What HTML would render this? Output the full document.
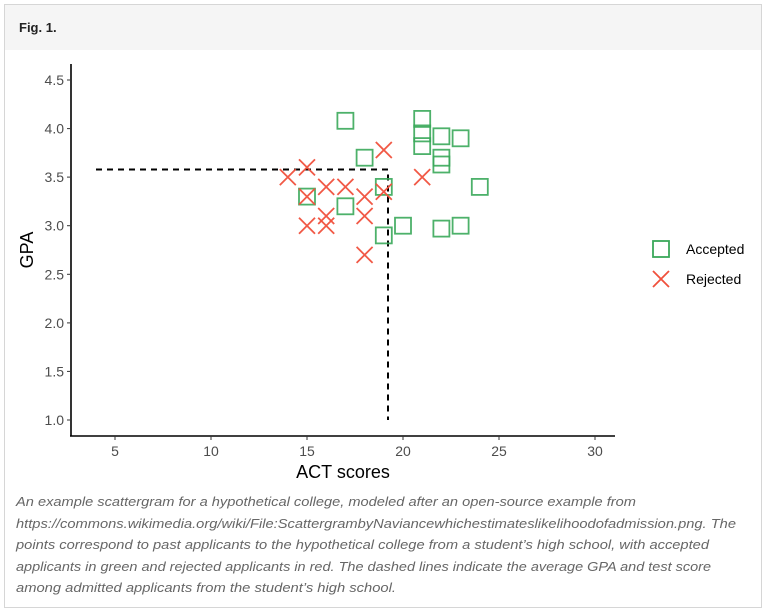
<!DOCTYPE html>
<html><head><meta charset="utf-8"><style>
html,body{margin:0;padding:0;background:#fff;}
svg{display:block;}
</style></head><body>
<svg width="766" height="612" viewBox="0 0 766 612" xmlns="http://www.w3.org/2000/svg" font-family="Liberation Sans, Arial, sans-serif">
<rect x="4.5" y="4.5" width="757" height="603" fill="#fff" stroke="#d6d6d6"/>
<rect x="5" y="5" width="756" height="45" fill="#f5f5f5"/>
<text x="19" y="32" font-size="13" font-weight="bold" fill="#222">Fig. 1.</text>
<line x1="71" y1="64" x2="71" y2="436" stroke="#000" stroke-width="1.6"/>
<line x1="70" y1="436" x2="615" y2="436" stroke="#000" stroke-width="1.6"/>
<g stroke="#333" stroke-width="1">
<line x1="67" y1="80" x2="71" y2="80"/><line x1="67" y1="128.6" x2="71" y2="128.6"/><line x1="67" y1="177.1" x2="71" y2="177.1"/><line x1="67" y1="225.7" x2="71" y2="225.7"/><line x1="67" y1="274.3" x2="71" y2="274.3"/><line x1="67" y1="322.9" x2="71" y2="322.9"/><line x1="67" y1="371.4" x2="71" y2="371.4"/><line x1="67" y1="420" x2="71" y2="420"/>
<line x1="115" y1="436" x2="115" y2="440"/><line x1="211" y1="436" x2="211" y2="440"/><line x1="307" y1="436" x2="307" y2="440"/><line x1="403" y1="436" x2="403" y2="440"/><line x1="499" y1="436" x2="499" y2="440"/><line x1="595" y1="436" x2="595" y2="440"/>
</g>
<g font-size="14" fill="#4d4d4d" text-anchor="end">
<text x="64" y="85">4.5</text><text x="64" y="133.6">4.0</text><text x="64" y="182.1">3.5</text><text x="64" y="230.7">3.0</text><text x="64" y="279.3">2.5</text><text x="64" y="327.9">2.0</text><text x="64" y="376.4">1.5</text><text x="64" y="425">1.0</text>
</g>
<g font-size="14" fill="#4d4d4d" text-anchor="middle">
<text x="115" y="456">5</text><text x="211" y="456">10</text><text x="307" y="456">15</text><text x="403" y="456">20</text><text x="499" y="456">25</text><text x="595" y="456">30</text>
</g>
<text x="343" y="478" font-size="18" text-anchor="middle" fill="#000">ACT scores</text>
<text transform="translate(33,250) rotate(-90)" font-size="18" text-anchor="middle" fill="#000">GPA</text>
<path d="M96 169.5 H388 V420" fill="none" stroke="#000" stroke-width="2" stroke-dasharray="6,5"/>
<g fill="none" stroke="#3aa85a" stroke-width="1.8" stroke-opacity="0.9">
<rect x="337.4" y="112.8" width="16" height="16"/>
<rect x="356.6" y="149.7" width="16" height="16"/>
<rect x="299" y="188.6" width="16" height="16"/>
<rect x="337.4" y="198.3" width="16" height="16"/>
<rect x="375.8" y="178.9" width="16" height="16"/>
<rect x="375.8" y="227.4" width="16" height="16"/>
<rect x="395" y="217.7" width="16" height="16"/>
<rect x="414.2" y="110.9" width="16" height="16"/>
<rect x="414.2" y="125.4" width="16" height="16"/>
<rect x="414.2" y="138.1" width="16" height="16"/>
<rect x="433.4" y="128.3" width="16" height="16"/>
<rect x="433.4" y="149.7" width="16" height="16"/>
<rect x="433.4" y="156.5" width="16" height="16"/>
<rect x="452.6" y="130.3" width="16" height="16"/>
<rect x="471.8" y="178.9" width="16" height="16"/>
<rect x="433.4" y="220.6" width="16" height="16"/>
<rect x="452.6" y="217.7" width="16" height="16"/>
</g>
<g stroke="#f0503c" stroke-width="1.8" stroke-opacity="0.95" fill="none">
<path d="M279.8 169.1l16 16m0 -16l-16 16"/>
<path d="M299 159.4l16 16m0 -16l-16 16"/>
<path d="M299 188.6l16 16m0 -16l-16 16"/>
<path d="M299 217.7l16 16m0 -16l-16 16"/>
<path d="M318.2 178.9l16 16m0 -16l-16 16"/>
<path d="M318.2 208l16 16m0 -16l-16 16"/>
<path d="M318.2 217.7l16 16m0 -16l-16 16"/>
<path d="M337.4 178.9l16 16m0 -16l-16 16"/>
<path d="M356.6 188.6l16 16m0 -16l-16 16"/>
<path d="M356.6 208l16 16m0 -16l-16 16"/>
<path d="M356.6 246.9l16 16m0 -16l-16 16"/>
<path d="M375.8 142l16 16m0 -16l-16 16"/>
<path d="M375.8 183.7l16 16m0 -16l-16 16"/>
<path d="M414.2 169.1l16 16m0 -16l-16 16"/>
</g>
<rect x="653" y="241" width="16" height="16" fill="none" stroke="#3aa85a" stroke-width="1.8"/>
<path d="M653 271l16 16m0 -16l-16 16" stroke="#f0503c" stroke-width="1.8"/>
<text x="686" y="254" font-size="14" fill="#000">Accepted</text>
<text x="686" y="284" font-size="14" fill="#000">Rejected</text>
<g font-size="13" font-style="italic" fill="#666">
<text x="16" y="506" textLength="620" lengthAdjust="spacingAndGlyphs">An example scattergram for a hypothetical college, modeled after an open-source example from</text>
<text x="16" y="528" textLength="720" lengthAdjust="spacingAndGlyphs">https://commons.wikimedia.org/wiki/File:ScattergrambyNaviancewhichestimateslikelihoodofadmission.png. The</text>
<text x="16" y="549" textLength="693" lengthAdjust="spacingAndGlyphs">points correspond to past applicants to the hypothetical college from a student’s high school, with accepted</text>
<text x="16" y="571" textLength="695" lengthAdjust="spacingAndGlyphs">applicants in green and rejected applicants in red. The dashed lines indicate the average GPA and test score</text>
<text x="16" y="592" textLength="380" lengthAdjust="spacingAndGlyphs">among admitted applicants from the student’s high school.</text>
</g>
</svg>
</body></html>
